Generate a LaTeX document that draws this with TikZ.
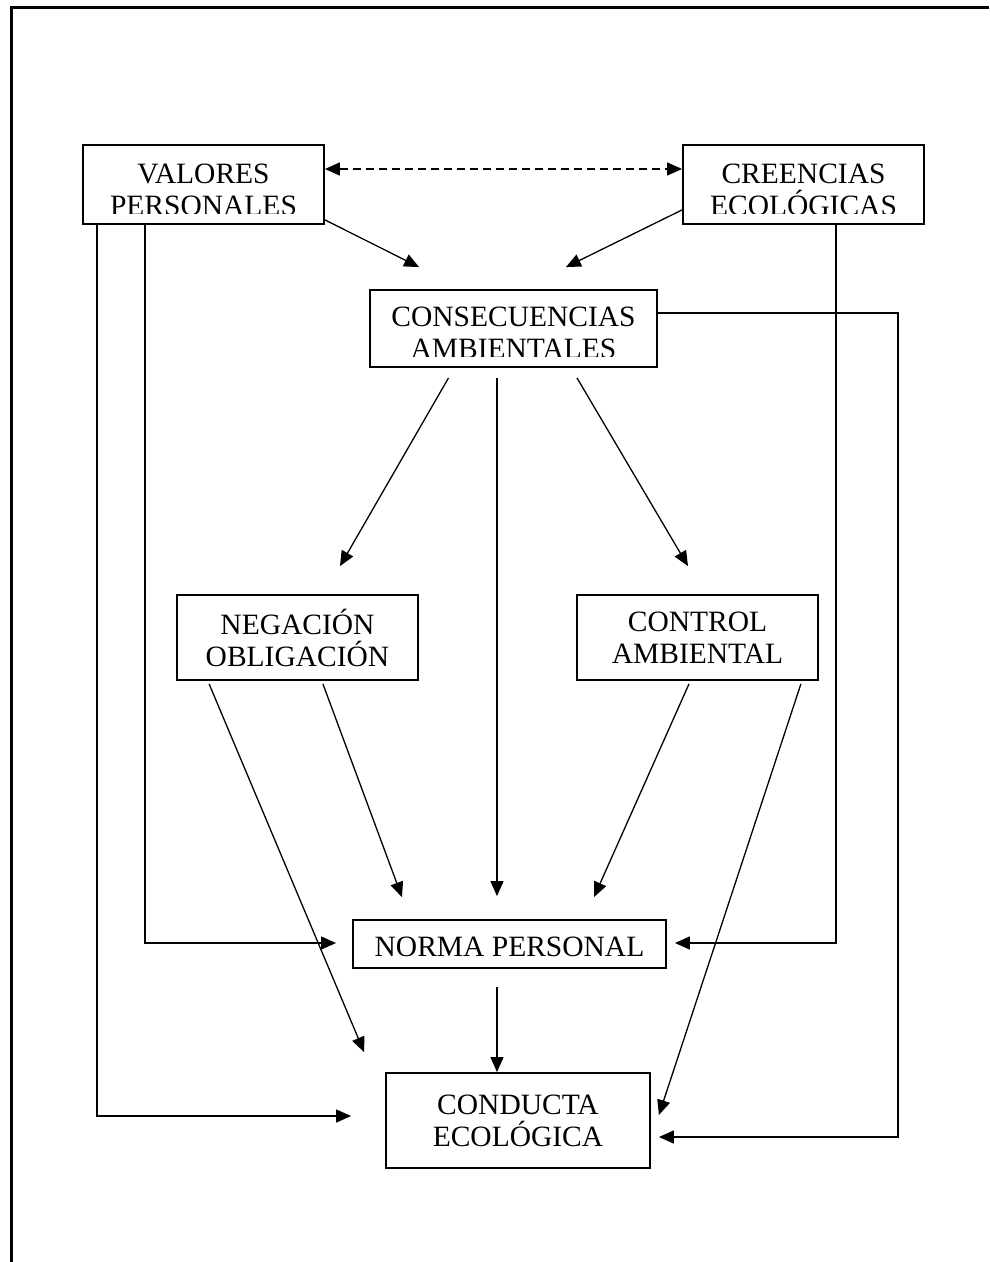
\documentclass[tikz,border=0pt]{standalone}
\usepackage{fontspec}
\setmainfont{Liberation Serif}
\usetikzlibrary{arrows.meta}

\begin{document}
\begin{tikzpicture}[x=1pt,y=-1pt,line join=miter,>={Triangle[length=15pt,width=13pt]},
  box/.style={draw,line width=1.8pt,inner sep=0pt,align=center,font=\fontsize{29.5}{32}\selectfont},
  txt/.style={inner sep=0pt,align=center,font=\fontsize{29.5}{32}\selectfont},
  con/.style={line width=1.3pt},
  dashcon/.style={line width=1.3pt,dash pattern=on 8pt off 5pt}]
\useasboundingbox (0,0) rectangle (989,1262);
% page frame
\draw[line width=2.5pt] (11.5,1262) -- (11.5,7.5) -- (989,7.5);
% boxes
\node[box,minimum width=241pt,minimum height=79pt] (valores) at (203.5,184.5) {};
\node[box,minimum width=241pt,minimum height=79pt] (creencias) at (803.5,184.5) {};
\node[box,minimum width=287pt,minimum height=77pt] (consec) at (513.5,328.5) {};
\node[box,minimum width=241pt,minimum height=85pt] (negacion) at (297.5,637.5) {NEGACIÓN\\OBLIGACIÓN};
\node[box,minimum width=241pt,minimum height=85pt] (control) at (697.5,637.5) {CONTROL\\AMBIENTAL};
\node[box,minimum width=313pt,minimum height=48pt,text height=25pt,text depth=0pt] (norma) at (509.5,944) {NORMA PERSONAL};
\node[box,minimum width=264pt,minimum height=95pt] (conducta) at (518,1120.5) {CONDUCTA\\ECOLÓGICA};
% texts cut off at the bottom of their boxes
\begin{scope}
\clip ([xshift=1pt,yshift=-1pt]valores.north west) rectangle ([yshift=11pt]valores.south east);
\node[txt,anchor=north] (valorestxt) at (203.5,164) {VALORES\\PERSONALES};
\end{scope}
\begin{scope}
\clip ([xshift=1pt,yshift=-1pt]creencias.north west) rectangle ([yshift=11pt]creencias.south east);
\node[txt,anchor=north] (creenciastxt) at (803.5,164) {CREENCIAS\\ECOLÓGICAS};
\end{scope}
\begin{scope}
\clip ([xshift=1pt,yshift=-1pt]consec.north west) rectangle ([yshift=11pt]consec.south east);
\node[txt,anchor=north] (consectxt) at (513.5,307) {CONSECUENCIAS\\AMBIENTALES};
\end{scope}
% connectors
\draw[dashcon,<->] ([yshift=15.5pt]valores.east) -- ([yshift=15.5pt]creencias.west);
\draw[con,->] ([yshift=5pt]valores.south east) -- ([xshift=50pt,yshift=22pt]consec.north west);
\draw[con,->] ([yshift=15pt]creencias.south west) -- ([xshift=-92pt,yshift=22pt]consec.north east);
\draw[con,->] ([xshift=15pt]valores.south west) |- ([xshift=-34pt,yshift=4.5pt]conducta.west);
\draw[con,->] ([xshift=63pt]valores.south west) |- ([xshift=-16pt,yshift=1pt]norma.west);
\draw[con,->] ([xshift=-89pt]creencias.south east) |- ([xshift=8pt,yshift=1pt]norma.east);
\draw[con,->] ([yshift=15.5pt]consec.east) -- ++(240,0) |- ([xshift=8pt,yshift=-16.5pt]conducta.east);
\draw[con,->] ([xshift=-65pt,yshift=-10pt]consec.south) -- ([xshift=42.5pt,yshift=28pt]negacion.north);
\draw[con,->] ([xshift=-16.5pt,yshift=-10pt]consec.south) -- ([xshift=-12.5pt,yshift=23pt]norma.north);
\draw[con,->] ([xshift=63.5pt,yshift=-10pt]consec.south) -- ([xshift=-9.5pt,yshift=28pt]control.north);
\draw[con,->] ([xshift=33pt,yshift=-3pt]negacion.south west) -- ([xshift=-21pt,yshift=20pt]conducta.north west);
\draw[con,->] ([xshift=-96pt,yshift=-3pt]negacion.south east) -- ([xshift=-107.5pt,yshift=22pt]norma.north);
\draw[con,->] ([xshift=-8.5pt,yshift=-3pt]control.south) -- ([xshift=84.5pt,yshift=22pt]norma.north);
\draw[con,->] ([xshift=-18pt,yshift=-3pt]control.south east) -- ([xshift=8pt,yshift=5.5pt]conducta.east);
\draw[con,->] ([xshift=-12.5pt,yshift=-18pt]norma.south) -- ([xshift=-21pt]conducta.north);
\end{tikzpicture}
\end{document}
